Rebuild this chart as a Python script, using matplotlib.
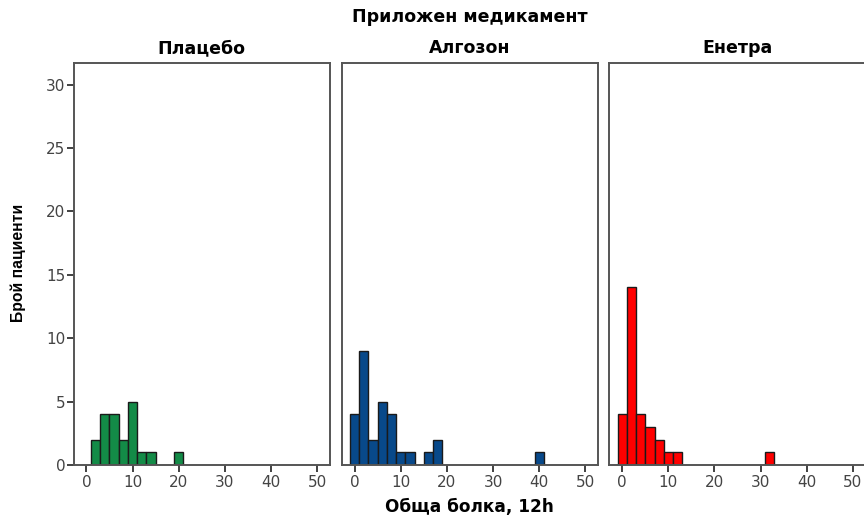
import matplotlib
matplotlib.use("Agg")
import matplotlib.pyplot as plt
import numpy as np

# bin width 2; counts per bin, left edges
groups = ['Плацебо', 'Алгозон', 'Енетра']
colors = ['#138b47', '#08498a', '#ff0000']

placebo_left = [1, 3, 5, 7, 9, 11, 13, 19]
placebo_cnt = [2, 4, 4, 2, 5, 1, 1, 1]

algozon_left = [-1, 1, 3, 5, 7, 9, 11, 15, 17, 39]
algozon_cnt = [4, 9, 2, 5, 4, 1, 1, 1, 2, 1]

enetra_left = [-1, 1, 3, 5, 7, 9, 11, 31]
enetra_cnt = [4, 14, 4, 3, 2, 1, 1, 1]

lefts = [placebo_left, algozon_left, enetra_left]
counts = [placebo_cnt, algozon_cnt, enetra_cnt]

xticks = [0, 10, 20, 30, 40, 50]
yticks = [0, 5, 10, 15, 20, 25, 30]

fig = plt.figure(figsize=(8.64, 5.17), dpi=100)

ax_left = [73.5, 341.7, 609.3]
W, H = 864.0, 517.0
for i in range(3):
    ax = fig.add_axes([ax_left[i] / W, 1 - 465 / H, 256.5 / W, 402 / H])
    ax.bar(lefts[i], counts[i], width=2, align='edge', color=colors[i],
           edgecolor='#1a1a1a', linewidth=1.0)
    ax.set_xlim(-2.8, 52.8)
    ax.set_ylim(0, 31.7)
    ax.set_xticks(xticks)
    ax.tick_params(axis='x', direction='out', length=5, width=1.3, color='#333333',
                   labelsize=11, labelcolor='#444444', pad=2)
    if i == 0:
        ax.set_yticks(yticks)
        ax.tick_params(axis='y', direction='out', length=5, width=1.3, color='#333333',
                       labelsize=11, labelcolor='#444444', pad=1)
    else:
        ax.set_yticks([])
    for sp in ax.spines.values():
        sp.set_color('#555555')
        sp.set_linewidth(1.4)
    ax.set_title(groups[i], fontsize=12.5, fontweight='bold', pad=7)

fig.text(470 / W, 1 - 17 / H, 'Приложен медикамент', ha='center', va='center',
         fontsize=12.5, fontweight='bold')
fig.text(469 / W, 1 - 507 / H, 'Обща болка, 12h', ha='center', va='center',
         fontsize=12.2, fontweight='bold')
fig.text(18 / W, 1 - 263 / H, 'Брой пациенти', ha='center', va='center',
         rotation=90, fontsize=11.3, fontweight='bold',
         family=['Liberation Sans Narrow', 'Liberation Sans'])

fig.savefig('out.png', dpi=100)
